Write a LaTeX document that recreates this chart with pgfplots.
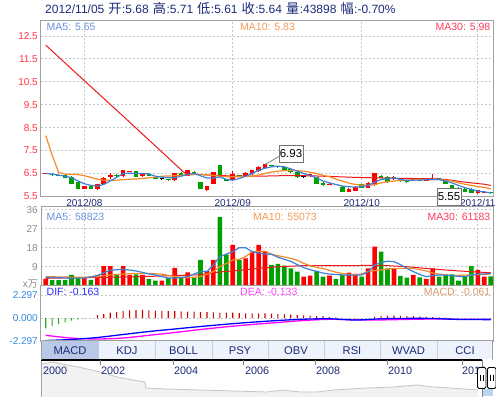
\documentclass[border=0pt]{standalone}
\usepackage{fontspec}
\setmainfont{Liberation Sans}
\newfontfamily\cjk{Noto Sans CJK SC}
\usepackage{pgfplots}
\usepackage{pgfplotstable}
\pgfplotsset{compat=1.18}

\definecolor{kred}{HTML}{FF0000}
\definecolor{kgreen}{HTML}{00A000}
\definecolor{mafive}{HTML}{3C82D8}
\definecolor{maten}{HTML}{F38B2A}
\definecolor{mathirty}{HTML}{F01818}
\definecolor{lgfive}{HTML}{6A90E0}
\definecolor{lgten}{HTML}{F49A55}
\definecolor{lgthirty}{HTML}{FF3A5A}
\definecolor{frame}{HTML}{A0A0A0}
\definecolor{gridc}{HTML}{C8C8C8}
\definecolor{navy}{HTML}{1C2B78}
\definecolor{pricelab}{HTML}{FF3344}
\definecolor{vollab}{HTML}{8C8C8C}
\definecolor{macdlab}{HTML}{2F8CE6}
\definecolor{difc}{HTML}{0000FF}
\definecolor{deac}{HTML}{FF00FF}
\definecolor{diftxt}{HTML}{2A2AFF}
\definecolor{deatxt}{HTML}{FF44FF}
\definecolor{macdtxt}{HTML}{D89A6A}
\definecolor{histred}{HTML}{CC0000}
\definecolor{histgreen}{HTML}{22AA22}
\definecolor{tabsel}{HTML}{B8C8E6}
\definecolor{tabbg}{HTML}{EEF3FB}
\definecolor{tabsep}{HTML}{C4D0E8}
\definecolor{tlfill}{HTML}{F2F2F2}
\definecolor{tlline}{HTML}{C4C4C4}
\definecolor{selblue}{HTML}{BCD4EE}

\newcommand\cj[1]{\hspace{0.7pt}{\cjk\fontsize{13.2}{14}\selectfont #1}\hspace{0.5pt}}

\pgfplotstableread{
i o h l c v
0 6.48 6.50 6.46 6.49 3.2
1 6.49 6.50 6.40 6.42 2.7
2 6.45 6.47 6.38 6.40 2.7
3 6.45 6.47 6.30 6.32 2.7
4 6.35 6.37 6.03 6.05 5.1
5 6.12 6.14 5.82 5.84 4.0
6 5.84 5.96 5.82 5.94 3.6
7 5.94 5.95 5.82 5.84 2.8
8 5.83 6.06 5.78 6.05 5.1
9 6.05 6.33 6.03 6.31 9.3
10 6.36 6.53 6.27 6.45 9.3
11 6.42 6.46 6.36 6.40 5.1
12 6.38 6.67 6.36 6.63 9.3
13 6.58 6.62 6.56 6.60 5.1
14 6.59 6.60 6.34 6.36 5.4
15 6.40 6.52 6.36 6.47 5.1
16 6.48 6.50 6.38 6.40 3.2
17 6.33 6.36 6.25 6.27 2.4
18 6.27 6.30 6.23 6.27 2.4
19 6.26 6.28 6.18 6.22 3.6
20 6.20 6.52 6.18 6.50 8.5
21 6.53 6.55 6.39 6.41 3.6
22 6.41 6.65 6.39 6.63 6.3
23 6.56 6.60 6.44 6.46 3.8
24 6.12 6.14 5.82 5.84 12.2
25 5.78 5.97 5.72 5.95 7.0
26 6.05 6.58 6.03 6.56 12.2
27 6.85 6.87 6.36 6.38 32.5
28 6.26 6.28 6.16 6.18 14.9
29 6.20 6.60 6.18 6.49 19.3
30 6.42 6.45 6.38 6.40 12.2
31 6.38 6.55 6.36 6.53 13.0
32 6.46 6.66 6.44 6.64 16.1
33 6.60 6.82 6.58 6.79 19.3
34 6.75 6.93 6.73 6.92 16.4
35 6.83 6.86 6.78 6.81 9.8
36 6.80 6.84 6.75 6.78 10.3
37 6.79 6.81 6.64 6.66 9.5
38 6.70 6.72 6.54 6.56 8.2
39 6.56 6.58 6.32 6.34 6.7
40 6.36 6.39 6.32 6.36 4.3
41 6.38 6.49 6.36 6.47 4.8
42 6.34 6.36 6.03 6.05 7.0
43 6.09 6.11 5.96 5.98 4.3
44 6.01 6.07 5.98 6.03 4.8
45 6.04 6.06 5.99 6.01 3.2
46 5.92 5.94 5.68 5.70 5.1
47 5.69 5.85 5.67 5.83 6.2
48 5.74 5.94 5.72 5.92 5.6
49 6.02 6.04 5.86 5.88 4.3
50 5.88 6.11 5.86 6.09 8.2
51 5.98 6.52 5.96 6.50 18.5
52 6.41 6.45 6.29 6.31 16.1
53 6.36 6.38 6.10 6.12 8.2
54 6.24 6.38 6.22 6.36 8.2
55 6.27 6.29 6.13 6.15 4.6
56 6.20 6.22 6.10 6.12 3.8
57 6.20 6.29 6.18 6.27 5.1
58 6.24 6.26 6.15 6.17 4.0
59 6.17 6.26 6.15 6.24 3.2
60 6.23 6.49 6.22 6.25 8.2
61 6.27 6.29 6.22 6.24 4.3
62 6.17 6.19 6.03 6.05 5.4
63 5.98 6.00 5.55 5.83 5.4
64 5.88 5.90 5.78 5.80 2.4
65 5.83 5.85 5.67 5.69 4.3
66 5.83 5.85 5.64 5.66 9.3
67 5.63 5.78 5.61 5.76 7.5
68 5.65 5.72 5.63 5.68 4.3
69 5.68 5.71 5.61 5.64 4.39
}\kdata

\pgfplotstableread{
i a5 a10
0 6.50 8.15
1 6.47 7.30
2 6.43 6.55
3 6.38 6.47
4 6.32 6.46
5 6.17 6.45
6 6.05 6.40
7 5.98 6.33
8 5.95 6.25
9 6.02 6.21
10 6.17 6.20
11 6.33 6.21
12 6.50 6.23
13 6.51 6.25
14 6.50 6.26
15 6.50 6.28
16 6.48 6.31
17 6.38 6.34
18 6.34 6.38
19 6.31 6.39
20 6.31 6.40
21 6.38 6.42
22 6.46 6.44
23 6.50 6.45
24 6.40 6.46
25 6.30 6.44
26 6.30 6.41
27 6.35 6.38
28 6.24 6.36
29 6.21 6.36
30 6.28 6.36
31 6.38 6.37
32 6.50 6.38
33 6.64 6.43
34 6.73 6.50
35 6.79 6.56
36 6.82 6.60
37 6.79 6.62
38 6.70 6.63
39 6.60 6.62
40 6.50 6.60
41 6.41 6.55
42 6.31 6.50
43 6.17 6.42
44 6.09 6.36
45 6.02 6.25
46 5.95 6.17
47 5.92 6.08
48 5.91 6.02
49 5.92 5.99
50 5.98 5.98
51 6.12 6.02
52 6.24 6.09
53 6.27 6.14
54 6.31 6.17
55 6.24 6.19
56 6.20 6.21
57 6.21 6.22
58 6.21 6.24
59 6.24 6.24
60 6.24 6.24
61 6.24 6.23
62 6.17 6.21
63 6.09 6.17
64 5.98 6.09
65 5.88 6.03
66 5.80 5.98
67 5.73 5.93
68 5.70 5.89
69 5.65 5.83
}\pma

\pgfplotstableread{
i a30
0 12.10
4 11.06
8 10.03
12 9.00
16 7.96
20 6.92
21.5 6.53
22 6.48
24 6.45
26 6.42
28 6.40
30 6.38
33 6.38
36 6.40
39 6.41
42 6.39
45 6.36
48 6.33
51 6.31
54 6.29
57 6.28
60 6.27
62 6.24
64 6.16
66 6.09
68 6.03
69 5.98
}\pmathirty

\pgfplotstableread{
i m
0 4.0
2 3.8
4 3.6
6 3.6
8 4.8
10 7.3
12 7.8
14 7.0
16 5.6
17 5.1
19 3.6
21 3.8
22 4.3
23 5.5
24 6.7
25 6.7
26 9.8
27 13.8
28 15.0
29 16.1
30 18.0
31 18.0
32 16.1
33 15.5
34 15.0
35 14.9
36 13.5
37 12.5
38 11.5
39 10.0
40 8.6
41 7.6
42 6.8
43 6.0
44 5.5
46 5.1
48 5.0
49 5.1
50 6.5
51 9.8
52 11.0
53 11.6
54 11.4
55 10.0
56 8.2
57 6.7
58 5.3
59 4.3
60 4.8
61 5.1
62 5.0
63 4.8
64 4.4
65 4.3
66 5.0
67 5.5
68 5.6
69 5.88
}\vmafive

\pgfplotstableread{
i m
0 4.3
3 4.1
6 4.0
8 4.3
10 5.1
12 5.5
14 5.8
16 5.8
18 5.5
20 4.3
22 3.8
24 4.3
26 6.7
27 9.0
28 10.5
29 12.2
30 12.5
31 13.8
32 16.1
33 16.3
34 16.4
35 14.9
36 14.2
37 13.6
38 13.0
39 12.0
40 10.6
41 9.5
42 8.6
43 8.2
44 7.3
45 6.4
46 5.8
47 5.4
48 5.1
49 5.6
50 6.7
51 7.2
52 7.5
54 8.2
57 8.2
59 7.0
60 6.0
61 5.5
63 4.8
66 5.1
69 5.51
}\vmaten

\pgfplotstableread{
i m
0 3.5
5 3.8
10 4.0
15 4.3
20 4.8
24 5.2
27 6.5
30 7.3
33 8.2
36 9.0
40 9.5
45 9.5
50 9.6
53 9.5
56 9.0
60 7.9
64 7.0
69 6.12
}\vmathirty

\pgfplotstableread{
i m
0 -1.03
1 -0.80
2 -0.60
3 -0.43
4 -0.27
5 -0.13
6 -0.07
7 0.02
8 0.30
9 0.40
10 0.53
11 0.60
12 0.70
13 0.77
14 0.80
15 0.80
16 0.77
17 0.73
18 0.70
19 0.70
20 0.70
21 0.67
22 0.65
23 0.63
24 0.60
25 0.60
26 0.57
27 0.53
28 0.53
29 0.53
30 0.50
31 0.47
32 0.47
33 0.47
34 0.47
35 0.43
36 0.40
37 0.37
38 0.33
39 0.30
40 0.27
41 0.23
42 0.20
43 0.17
44 0.12
45 0.06
46 -0.03
47 -0.05
48 -0.05
49 -0.03
50 0.05
51 0.15
52 0.22
53 0.25
54 0.25
55 0.22
56 0.20
57 0.18
58 0.15
59 0.12
60 0.10
61 0.07
62 0.03
63 -0.02
64 -0.04
65 -0.05
66 -0.06
67 -0.06
68 -0.06
69 -0.061
}\mhist

\pgfplotstableread{
i dif dea
0 -2.25 -1.73
4 -2.15 -2.01
8 -1.95 -2.10
12 -1.65 -2.00
16 -1.35 -1.73
20 -1.10 -1.45
24 -0.85 -1.15
28 -0.62 -0.88
32 -0.42 -0.65
36 -0.25 -0.45
40 -0.12 -0.25
44 -0.08 -0.13
48 -0.20 -0.18
52 -0.08 -0.19
56 -0.04 -0.14
60 -0.05 -0.10
64 -0.14 -0.12
69 -0.163 -0.133
}\mlines

\pgfplotstableread{
x h
42 33
53 35
67 32
83 29
100 25
117 20
133 17
145 15
146 9
167 8
200 7
233 6
267 5
283 7
300 5
317 5
333 7
367 9
393 10
417 12
433 10
450 9
478 7
}\tline

\pgfplotsset{
  panel/.style={
    scale only axis, width=452pt, anchor=north west,
    xmin=-0.73, xmax=69.35,
    axis line style={draw=frame, line width=1pt},
    major tick length=0pt,
    tick label style={inner sep=0pt},
    grid style={gridc, dash pattern=on 2pt off 2pt, line width=0.8pt},
    yticklabel style={anchor=east, xshift=-3pt, font=\fontsize{10}{12}\selectfont},
  },
}

\begin{document}
\begin{tikzpicture}[x=1pt,y=1pt]
\path[use as bounding box, fill=white] (0,0) rectangle (496,-398);

% ---------- price panel ----------
\begin{axis}[panel, at={(41pt,-21pt)}, height=175.4pt,
  ymin=5.5, ymax=13.15,
  ytick={5.5,6.5,7.5,8.5,9.5,10.5,11.5,12.5},
  yticklabels={5.5,6.5,7.5,8.5,9.5,10.5,11.5,12.5},
  yticklabel style={text=pricelab},
  ymajorgrids, xmajorgrids,
  xtick={6,29,49,67}, xticklabels={2012/08,2012/09,2012/10,2012/11},
  xticklabel style={text=navy, anchor=north, yshift=-2.5pt, font=\fontsize{10}{12}\selectfont},
]
% wicks (quiver from low to high)
\addplot[kred, line width=1pt, mark=none, quiver={u=0, v=\thisrow{h}-\thisrow{l}},
  x filter/.expression={\thisrow{c}>\thisrow{o} ? x : nan}]
  table[x=i, y=l] {\kdata};
\addplot[kgreen, line width=1pt, mark=none, quiver={u=0, v=\thisrow{h}-\thisrow{l}},
  x filter/.expression={\thisrow{c}<\thisrow{o} ? x : nan}]
  table[x=i, y=l] {\kdata};
\addplot[black, line width=1pt, mark=none, quiver={u=0, v=\thisrow{h}-\thisrow{l}},
  x filter/.expression={\thisrow{c}==\thisrow{o} ? x : nan}]
  table[x=i, y=l] {\kdata};
% bodies (quiver from open to close)
\addplot[kred, line width=4.6pt, mark=none, quiver={u=0, v={max(\thisrow{c}-\thisrow{o},0.045)}},
  x filter/.expression={\thisrow{c}>\thisrow{o} ? x : nan}]
  table[x=i, y=o] {\kdata};
\addplot[kgreen, line width=4.6pt, mark=none, quiver={u=0, v={max(\thisrow{o}-\thisrow{c},0.045)}},
  x filter/.expression={\thisrow{c}<\thisrow{o} ? x : nan}]
  table[x=i, y=c] {\kdata};
\addplot[black, line width=4.6pt, mark=none, quiver={u=0, v=0.045},
  x filter/.expression={\thisrow{c}==\thisrow{o} ? x : nan}]
  table[x=i, y expr=\thisrow{o}-0.022] {\kdata};
% moving averages
\addplot[mathirty, line width=1pt] table[x=i, y=a30] {\pmathirty};
\addplot[maten, line width=1.2pt] table[x=i, y=a10] {\pma};
\addplot[mafive, line width=1.2pt] table[x=i, y=a5] {\pma};
\end{axis}

% ---------- volume panel ----------
\begin{axis}[panel, at={(41pt,-207pt)}, height=78.7pt,
  ymin=0, ymax=37.3,
  ytick={9,18,27,36}, yticklabels={9,18,27,36},
  yticklabel style={text=vollab},
  ymajorgrids, xmajorgrids,
  xtick={6,29,49,67}, xticklabels={,,,},
]
\addplot[ybar, bar width=4.6pt, bar shift=0pt, fill=kred, draw=none,
  x filter/.expression={\thisrow{c}<\thisrow{o} ? nan : x}] table[x=i, y=v] {\kdata};
\addplot[ybar, bar width=4.6pt, bar shift=0pt, fill=kgreen, draw=none,
  x filter/.expression={\thisrow{c}<\thisrow{o} ? x : nan}] table[x=i, y=v] {\kdata};
\addplot[mathirty, line width=1pt] table[x=i, y=m] {\vmathirty};
\addplot[maten, line width=1.2pt] table[x=i, y=m] {\vmaten};
\addplot[mafive, line width=1.2pt] table[x=i, y=m] {\vmafive};
\end{axis}

% ---------- MACD panel ----------
\begin{axis}[panel, at={(41pt,-286pt)}, height=55.5pt,
  ymin=-2.35, ymax=3.2,
  ytick={-2.297,0,2.297}, yticklabels={-2.297,0.000,2.297},
  yticklabel style={text=macdlab},
  ymajorgrids, xtick=\empty,
]
\addplot[ybar, bar width=1.1pt, bar shift=0pt, fill=histred, draw=none,
  y filter/.expression={y>0 ? y : nan}] table[x=i, y=m] {\mhist};
\addplot[ybar, bar width=1.1pt, bar shift=0pt, fill=histgreen, draw=none,
  y filter/.expression={y<0 ? y : nan}] table[x=i, y=m] {\mhist};
\addplot[deac, line width=1.3pt, smooth] table[x=i, y=dea] {\mlines};
\addplot[difc, line width=1.3pt, smooth] table[x=i, y=dif] {\mlines};
\end{axis}

% ---------- timeline ----------
\begin{axis}[at={(41pt,-397pt)}, anchor=south west, scale only axis,
  width=452pt, height=37pt, xmin=41, xmax=493, ymin=0, ymax=37,
  axis lines=none, clip=true]
\addplot[fill=tlfill, draw=none] table[x=x, y=h] {\tline} \closedcycle;
\addplot[tlline, line width=0.8pt] table[x=x, y=h] {\tline};
\end{axis}

% frame of timeline
\draw[frame, line width=1pt] (41.5,-360) -- (41.5,-397.5);
\draw[black, line width=1.6pt] (41,-360.3) -- (482,-360.3);
\foreach \tx in {100,173,243,315,387,462} \draw[gray, line width=0.8pt] (\tx,-360) -- (\tx,-365);
\foreach \tx/\yr in {43/2000,101/2002,174/2004,245/2006,316/2008,388/2010,462/2012}
  \node[anchor=west, inner sep=0, text=navy, font=\fontsize{10.8}{12}\selectfont] at (\tx,-371) {\yr};
% selection and handles
\fill[selblue] (481.5,-389.5) rectangle (492.5,-396.5);
\draw[gray, line width=0.8pt] (482,-360) -- (482,-397);
\foreach \hx in {477.5,487.5} {
  \draw[black, fill=white, line width=0.9pt, rounded corners=1.5pt] (\hx,-367.5) rectangle (\hx+8.5,-388.5);
  \draw[black, line width=0.7pt] (\hx+3,-375) -- (\hx+3,-381);
  \draw[black, line width=0.7pt] (\hx+5.5,-375) -- (\hx+5.5,-381);
}

% ---------- tabs ----------
\fill[tabbg] (41.5,-341) rectangle (493,-359.5);
\fill[tabsel] (41.5,-341) rectangle (99,-359.5);
\foreach \sx in {155,212,268,324,380,437} \draw[tabsep, line width=0.8pt] (\sx,-341) -- (\sx,-359.5);
\draw[frame, line width=1pt] (41.5,-341) -- (493,-341);
\draw[frame, line width=1pt] (41.5,-341) -- (41.5,-360);
\draw[frame, line width=1pt] (492.5,-341) -- (492.5,-360);
\foreach \cx/\tl in {70/MACD,127/KDJ,183.5/BOLL,240/PSY,296/OBV,352/RSI,408.5/WVAD,465/CCI}
  \node[inner sep=0, text=navy, font=\fontsize{11.2}{13}\selectfont] at (\cx,-350.5) {\tl};

% ---------- texts ----------
\node[anchor=west, inner sep=0, text=navy, font=\fontsize{12}{14}\selectfont] at (45,-8.5)
  {2012/11/05 \cj{开}:5.68 \cj{高}:5.71 \cj{低}:5.61 \cj{收}:5.64 \cj{量}:43898 \cj{幅}:-0.70\%};

\begin{scope}[every node/.style={inner sep=0, font=\fontsize{10.5}{12}\selectfont}]
\node[anchor=west, text=lgfive] at (46.5,-27) {MA5: 5.65};
\node[anchor=west, text=lgten] at (240,-27) {MA10: 5.83};
\node[anchor=east, text=lgthirty] at (490.5,-27) {MA30: 5.98};
\node[anchor=west, text=lgfive] at (46.5,-216.5) {MA5: 58823};
\node[anchor=west, text=lgten] at (253,-216.5) {MA10: 55073};
\node[anchor=east, text=lgthirty] at (490.5,-216.5) {MA30: 61183};
\node[anchor=west, text=diftxt] at (46.5,-291.8) {DIF: -0.163};
\node[anchor=west, text=deatxt] at (240,-291.8) {DEA: -0.133};
\node[anchor=east, text=macdtxt] at (490.5,-291.8) {MACD: -0.061};
\end{scope}
\node[anchor=east, inner sep=0, text=vollab, font=\fontsize{10}{12}\selectfont] at (38,-284.5) {x{\cjk 万}};

% max / min labels
\draw[gray, line width=0.8pt] (265,-164.5) -- (279,-156.5);
\node[draw=gray!90!black, fill=white, line width=0.9pt, minimum width=24pt, minimum height=17pt, inner sep=0,
  font=\fontsize{11.5}{13}\selectfont] at (291,-153.5) {6.93};
\node[draw=gray!90!black, fill=white, line width=0.9pt, minimum width=24pt, minimum height=17pt, inner sep=0,
  font=\fontsize{11.5}{13}\selectfont] at (449,-196.5) {5.55};
\end{tikzpicture}
\end{document}
